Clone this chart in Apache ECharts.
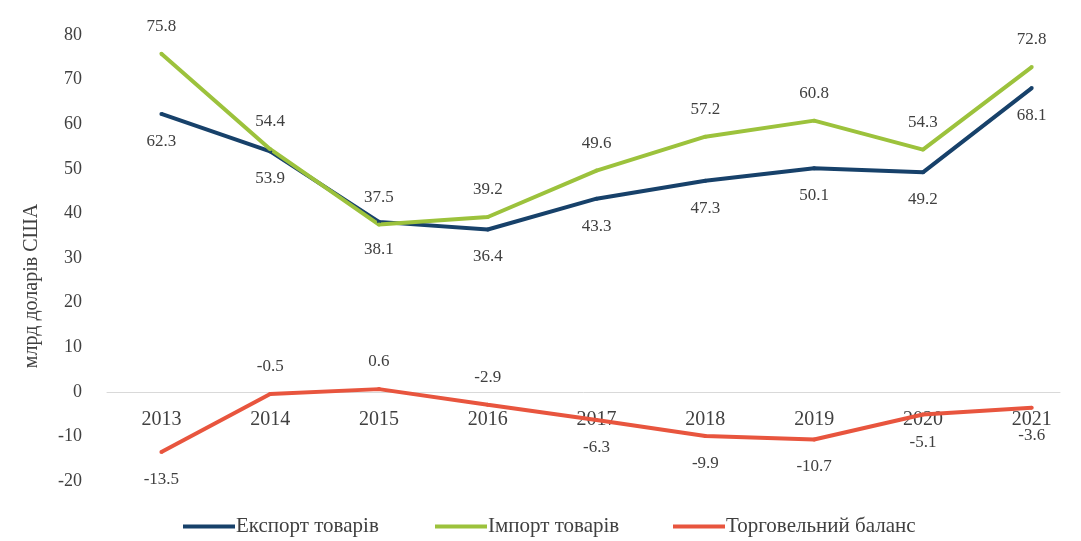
<!DOCTYPE html>
<html>
<head>
<meta charset="utf-8">
<script src="https://cdn.jsdelivr.net/npm/echarts@6/dist/echarts.min.js"></script>
<style>
  html, body { margin: 0; padding: 0; background: #fff; }
  #chart { width: 1081px; height: 541px; }
</style>
</head>
<body>
<div id="chart"></div>
<script>
// роки та значення, млрд доларів США
const years = [2013, 2014, 2015, 2016, 2017, 2018, 2019, 2020, 2021];
const exportValues = [62.3, 53.9, 38.1, 36.4, 43.3, 47.3, 50.1, 49.2, 68.1];
const importValues = [75.8, 54.4, 37.5, 39.2, 49.6, 57.2, 60.8, 54.3, 72.8];
const balanceValues = [-13.5, -0.5, 0.6, -2.9, -6.3, -9.9, -10.7, -5.1, -3.6];
const yTicks = [-20, -10, 0, 10, 20, 30, 40, 50, 60, 70, 80];
const seriesNames = ["Експорт товарів", "Імпорт товарів", "Торговельний баланс"];

// де стоять підписи балансу
const balanceLabelPos = ["bottom", "top", "top", "top", "bottom", "bottom", "bottom", "bottom", "bottom"];
// ліві краї елементів легенди
const legendLeft = [183, 435, 673];

const fontFamily = '"Liberation Serif", "DejaVu Serif", serif';
const textColor = "#404040";

function pairs(vals) {
  return years.map((y, i) => [y, vals[i]]);
}

function lineSeries(name, vals, color, pos) {
  return {
    name: name,
    type: "line",
    xAxisIndex: 0,
    yAxisIndex: 0,
    data: pairs(vals).map((p, i) => ({
      value: p,
      label: { position: Array.isArray(pos) ? pos[i] : pos }
    })),
    symbol: "circle",
    symbolSize: 4,
    showSymbol: true,
    itemStyle: { color: color },
    lineStyle: { color: color, width: 4 },
    label: {
      show: true,
      distance: 17,
      color: textColor,
      fontFamily: fontFamily,
      fontSize: 17,
      formatter: p => p.value[1].toFixed(1)
    },
    emphasis: { disabled: true },
    z: 3
  };
}

const myChart = echarts.init(document.getElementById("chart"));
myChart.setOption({
  animation: false,
  grid: [
    { left: 107, right: 21, top: 35, bottom: 60 },
    // допоміжна сітка: її низ лежить на нулі, щоб підписи років стояли під нулем
    { left: 107, right: 21, top: 35, height: 357 }
  ],
  legend: seriesNames.map((n, i) => ({
    left: legendLeft[i],
    top: 516,
    padding: 0,
    icon: "rect",
    itemWidth: 52,
    itemHeight: 4,
    textStyle: { color: textColor, fontFamily: fontFamily, fontSize: 21, padding: [0, 0, 0, -4] },
    data: [n]
  })),
  graphic: [
    {
      type: "text",
      x: 32,
      y: 286,
      rotation: Math.PI / 2,
      style: {
        text: "млрд доларів США",
        fill: textColor,
        font: "20px " + fontFamily,
        textAlign: "center",
        textVerticalAlign: "middle"
      }
    }
  ],
  xAxis: [
    {
      type: "value",
      gridIndex: 0,
      min: 2012.5,
      max: 2021.26,
      axisLine: { show: true, onZero: true, lineStyle: { color: "#d9d9d9", width: 1 } },
      axisTick: { show: false },
      splitLine: { show: false },
      axisLabel: { show: false }
    },
    {
      type: "value",
      gridIndex: 1,
      min: 2012.5,
      max: 2021.26,
      axisLine: { show: false },
      axisTick: { show: false },
      splitLine: { show: false },
      axisLabel: {
        customValues: years,
        formatter: v => String(v),
        margin: 18,
        color: textColor,
        fontFamily: fontFamily,
        fontSize: 20
      }
    }
  ],
  yAxis: [
    {
      type: "value",
      gridIndex: 0,
      min: yTicks[0],
      max: yTicks[yTicks.length - 1],
      interval: 10,
      axisLine: { show: false },
      axisTick: { show: false },
      splitLine: { show: false },
      axisLabel: {
        margin: 25,
        color: textColor,
        fontFamily: fontFamily,
        fontSize: 18
      }
    },
    {
      type: "value",
      gridIndex: 1,
      min: 0,
      max: 1,
      show: false
    }
  ],
  series: [
    lineSeries(seriesNames[0], exportValues, "#17416a", "bottom"),
    lineSeries(seriesNames[1], importValues, "#9cc23c", "top"),
    lineSeries(seriesNames[2], balanceValues, "#e8553e", balanceLabelPos)
  ]
});
</script>
</body>
</html>
